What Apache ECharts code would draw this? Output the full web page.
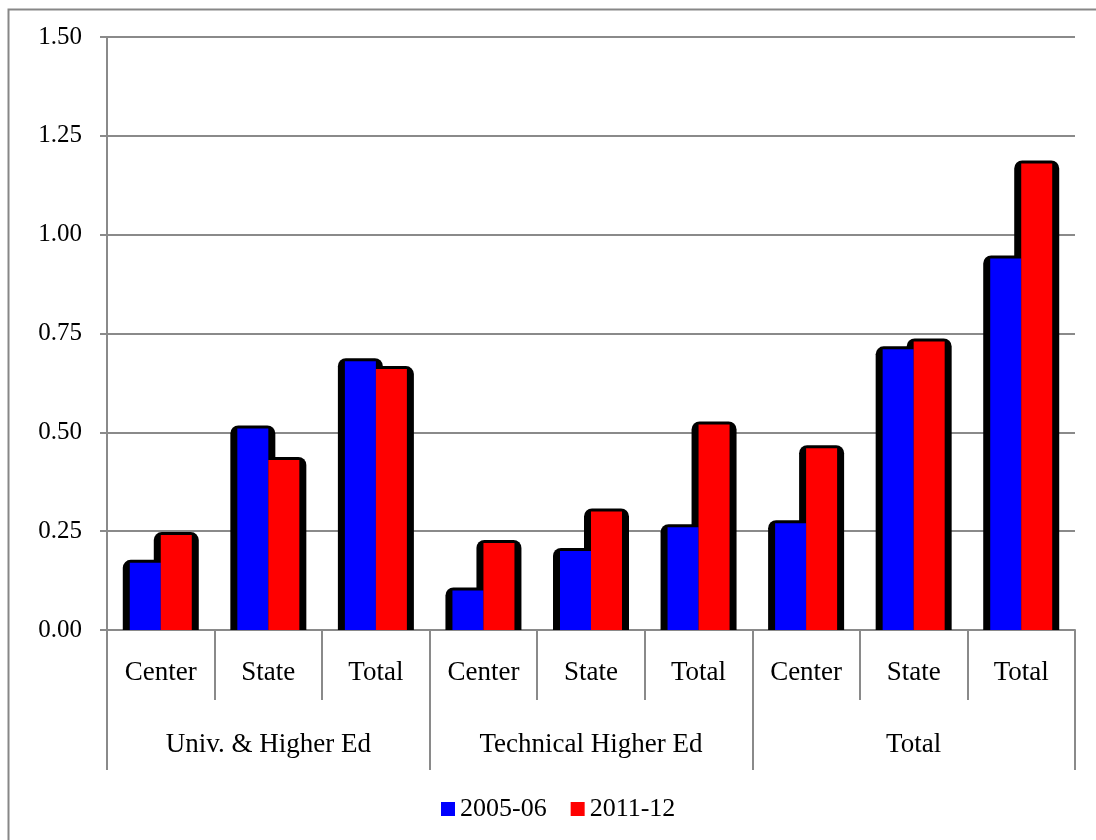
<!DOCTYPE html>
<html>
<head>
<meta charset="utf-8">
<script src="https://cdn.jsdelivr.net/npm/echarts@6/dist/echarts.min.js"></script>
<style>
  html, body { margin: 0; padding: 0; background: #fff; }
  #chart { width: 1096px; height: 840px; }
</style>
</head>
<body>
<div id="chart"></div>
<script>
// Sub-categories (level 1) and their groups (level 2)
const subCategories = ['Center', 'State', 'Total', 'Center', 'State', 'Total', 'Center', 'State', 'Total'];
const groups = ['Univ. & Higher Ed', 'Technical Higher Ed', 'Total'];
const seriesNames = ['2005-06', '2011-12'];
const values2005 = [0.17, 0.51, 0.68, 0.10, 0.20, 0.26, 0.27, 0.71, 0.94];
const values2011 = [0.24, 0.43, 0.66, 0.22, 0.30, 0.52, 0.46, 0.73, 1.18];
const yTicks = { min: 0, max: 1.5, interval: 0.25 };

const FONT = 'Liberation Serif';
const GRAY = '#8a8a8a';
const BAR_W = 31;      // width of each coloured bar
const SHADE_SIDE = 7;  // black backing beyond each bar's sides
const SHADE_TOP = 3;   // black backing above each bar's top

// Black rounded backing behind a bar; side = -1 for the left bar, +1 for the right bar
function backing(side) {
  return function (params, api) {
    const idx = api.value(0);
    const v = api.value(1);
    const top = api.coord([idx, v]);
    const base = api.coord([idx, 0]);
    const cx = top[0] + side * BAR_W / 2;
    const w = BAR_W + 2 * SHADE_SIDE;
    const y0 = top[1] - SHADE_TOP;
    return {
      type: 'rect',
      shape: { x: cx - w / 2, y: y0, width: w, height: base[1] - y0, r: [8, 8, 0, 0] },
      style: { fill: '#000' }
    };
  };
}

const chart = echarts.init(document.getElementById('chart'), null, { renderer: 'canvas' });
chart.setOption({
  animation: false,
  backgroundColor: '#fff',
  textStyle: { fontFamily: FONT },
  graphic: [{
    type: 'rect',
    left: 6, top: 7,
    shape: { width: 1200, height: 1000 },
    style: { fill: 'none', stroke: '#878787', lineWidth: 2 },
    z: 0
  }],
  grid: { left: 107, right: 21, top: 37, bottom: 210 },
  legend: {
    data: seriesNames,
    bottom: 13,
    left: 436,
    icon: 'rect',
    itemWidth: 14,
    itemHeight: 14,
    itemGap: 24,
    textStyle: { fontFamily: FONT, fontSize: 26, color: '#000' }
  },
  xAxis: [{
    type: 'category',
    data: subCategories,
    position: 'bottom',
    axisLine: { lineStyle: { color: GRAY, width: 2 } },
    axisTick: { show: true, interval: 0, length: 70, lineStyle: { color: GRAY, width: 2 } },
    axisLabel: { interval: 0, margin: 29, fontFamily: FONT, fontSize: 27, color: '#000' }
  }, {
    type: 'category',
    data: groups,
    position: 'bottom',
    offset: 0,
    axisLine: { show: false },
    axisTick: { show: true, interval: 0, length: 140, lineStyle: { color: GRAY, width: 2 } },
    axisLabel: { interval: 0, margin: 101, fontFamily: FONT, fontSize: 27, color: '#000' }
  }],
  yAxis: {
    type: 'value',
    min: yTicks.min,
    max: yTicks.max,
    interval: yTicks.interval,
    axisLine: { show: true, lineStyle: { color: GRAY, width: 2 } },
    axisTick: { show: true, length: 7, lineStyle: { color: GRAY, width: 2 } },
    splitLine: { lineStyle: { color: GRAY, width: 2 } },
    axisLabel: {
      margin: 25, fontFamily: FONT, fontSize: 25, color: '#000',
      formatter: v => v.toFixed(2)
    }
  },
  series: [{
    type: 'custom',
    xAxisIndex: 0,
    renderItem: backing(-1),
    data: values2005.map((v, i) => [i, v]),
    encode: { x: 0, y: 1 },
    z: 1,
    silent: true
  }, {
    type: 'custom',
    xAxisIndex: 0,
    renderItem: backing(1),
    data: values2011.map((v, i) => [i, v]),
    encode: { x: 0, y: 1 },
    z: 1,
    silent: true
  }, {
    name: seriesNames[0],
    type: 'bar',
    xAxisIndex: 0,
    data: values2005,
    barWidth: BAR_W,
    barGap: '0%',
    itemStyle: { color: '#0000ff' },
    z: 3
  }, {
    name: seriesNames[1],
    type: 'bar',
    xAxisIndex: 0,
    data: values2011,
    barWidth: BAR_W,
    barGap: '0%',
    itemStyle: { color: '#ff0000' },
    z: 3
  }]
});
</script>
</body>
</html>
